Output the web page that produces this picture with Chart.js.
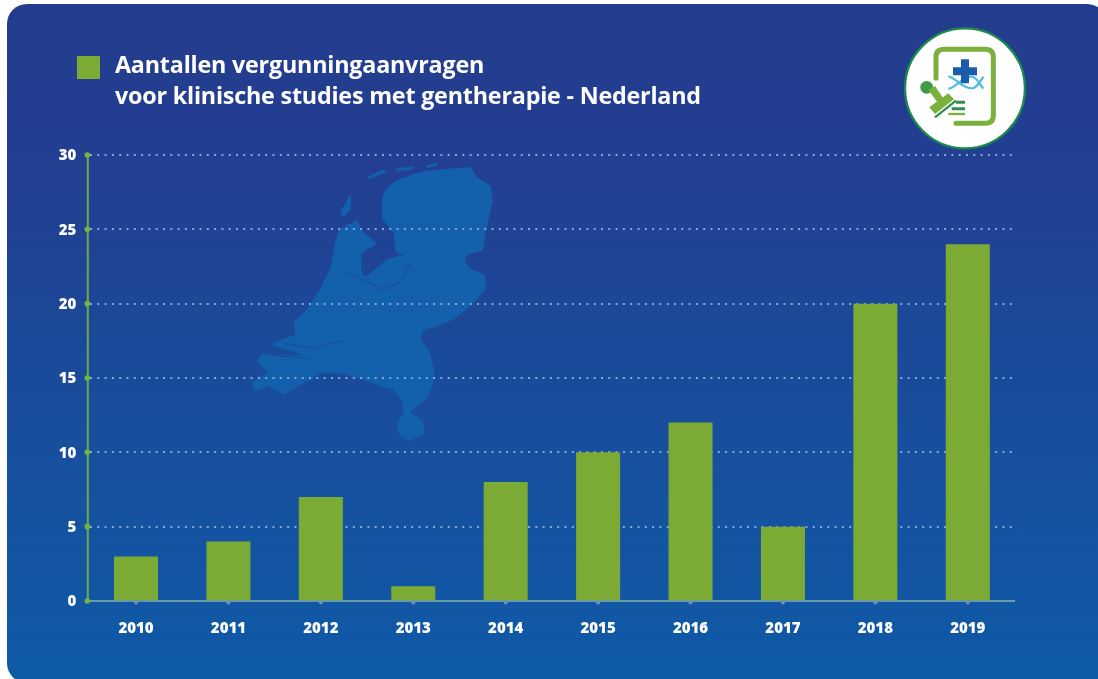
<!DOCTYPE html>
<html lang="nl">
<head>
<meta charset="utf-8">
<title>Aantallen vergunningaanvragen</title>
<script src="https://cdn.jsdelivr.net/npm/chart.js@4"></script>
<style>
html,body{margin:0;padding:0;background:#fff;width:1098px;height:679px;overflow:hidden}
#panel{position:absolute;left:7px;top:4px;width:1100px;height:679px;border-radius:20px;background:linear-gradient(180deg,#243c8e 0%,#223f91 25%,#16519f 70%,#0e5aa7 100%)}
#deco{position:absolute;left:0;top:0}
#wrap{position:absolute;left:0;top:0;width:1098px;height:679px}
#swatch{position:absolute;left:77px;top:56px;width:23px;height:23px;background:#7cab35}
#title{position:absolute;left:115px;top:49px;color:#fff;font:700 23.3px/31px "Open Sans",sans-serif;white-space:nowrap;letter-spacing:-.2px}
</style>
</head>
<body>
<div id="panel"></div>
<svg id="deco" width="1098" height="679" viewBox="0 0 1098 679" xmlns="http://www.w3.org/2000/svg">
  <g transform="translate(240,155) scale(0.3333)" fill="#1360ad" stroke="#1360ad" stroke-width="7" stroke-linejoin="round">
    <path d="M440 105L470 80L520 60L570 50L620 45L690 40L710 70L750 95L755 140L745 180L735 230L725 285L680 295L670 320L690 345L730 360L735 400L700 440L665 470L640 490L590 510L545 525L540 555L565 590L580 650L575 690L560 725L530 750L505 770L545 800L550 830L510 855L480 835L475 810L495 770L490 735L460 700L420 690L370 670L300 650L240 650L215 670L190 680L130 715L85 690L45 705L40 685L90 650L55 620L65 600L130 610L200 600L170 590L100 570L130 555L170 540L165 500L200 470L240 410L275 340L290 260L300 225L350 200L365 230L405 265L360 295L362 350L375 372L445 315L505 298L470 290L465 235L430 190L430 130Z"/>
    <path d="M305 175L330 125L328 165L310 182Z"/>
    <path d="M380 68L430 45L440 50L390 70Z" stroke-width="3"/>
    <path d="M468 42L520 36L518 42L470 48Z" stroke-width="3"/>
    <path d="M558 32L590 24L590 30L562 38Z" stroke-width="3"/>
    <path d="M320 355L370 375L430 405L480 380L515 320" fill="none" stroke="#1c4f9f" stroke-width="4"/>
    <path d="M130 565L220 580L320 555M115 600L210 610" fill="none" stroke="#18539f" stroke-width="5"/>
  </g>
  <g transform="translate(880,10) scale(0.3333)">
    <circle cx="255" cy="235" r="180" fill="#fff" stroke="#1c8a4c" stroke-width="7"/>
    <path d="M168 205V142Q168 118 192 118H316Q340 118 340 142V316Q340 340 316 340H228" fill="none" stroke="#7cb03c" stroke-width="15" stroke-linecap="round"/>
    <path d="M205 200C225 200 245 235 275 235C290 235 300 215 310 200M205 236C225 236 245 200 275 200C290 200 300 225 310 236" fill="none" stroke="#55bde3" stroke-width="7"/>
    <path d="M243 148H267V172H291V196H267V220H243V196H219V172H243Z" fill="#1c5dab"/>
    <circle cx="140" cy="232" r="19" fill="#3e9a46"/>
    <path d="M145 240L165 228L190 265L172 277Z" fill="#7cb03c"/>
    <path d="M148 292L205 250L222 268L165 312Z" fill="#7cb03c"/>
    <path d="M165 322L228 272" stroke="#2f8f4a" stroke-width="7" fill="none"/>
    <path d="M228 277H255M215 296H255" stroke="#2f8f4a" stroke-width="9" fill="none"/>
    <path d="M205 312H255" stroke="#7cb03c" stroke-width="7" fill="none"/>
  </g>
</svg>
<div id="wrap"><canvas id="c" width="1098" height="679"></canvas></div>
<div id="swatch"></div>
<div id="title"></div>
<script>
const titleLines = ["Aantallen vergunningaanvragen", "voor klinische studies met gentherapie - Nederland"];
const years = ["2010","2011","2012","2013","2014","2015","2016","2017","2018","2019"];
const aanvragen = [3,4,7,1,8,10,12,5,20,24];
const yTicks = [0,5,10,15,20,25,30];

document.getElementById('title').innerHTML = titleLines.join('<br>');

const axisDecor = {
  id:'axisDecor',
  afterDatasetsDraw(chart){
    const {ctx, chartArea:a, scales:{x,y}} = chart;
    const ax = a.left - 2;
    ctx.save();
    ctx.strokeStyle = '#6cab4c'; ctx.lineWidth = 2;
    ctx.beginPath(); ctx.moveTo(ax, a.top); ctx.lineTo(ax, a.bottom); ctx.stroke();
    ctx.fillStyle = '#76b33f';
    yTicks.forEach(v=>{ ctx.beginPath(); ctx.arc(ax-0.5, y.getPixelForValue(v), 2.8, 0, 2*Math.PI); ctx.fill(); });
    ctx.fillStyle = '#6f93a8';
    years.forEach((_,i)=>{ ctx.beginPath(); ctx.arc(x.getPixelForValue(i), a.bottom+1.5, 2, 0, 2*Math.PI); ctx.fill(); });
    ctx.restore();
  }
};

Chart.defaults.font.family = '"Open Sans", sans-serif';
new Chart(document.getElementById('c'), {
  type:'bar',
  data:{labels:years, datasets:[{label:titleLines.join(' '), data:aanvragen, backgroundColor:'#7cab35', borderWidth:0, barPercentage:0.476, categoryPercentage:1}]},
  plugins:[axisDecor],
  options:{
    responsive:false, animation:false,
    layout:{padding:{left:0,top:155,right:84,bottom:40}},
    plugins:{legend:{display:false},tooltip:{enabled:false},title:{display:false}},
    scales:{
      x:{
        grid:{display:false,drawTicks:false},
        border:{display:true,color:'#6a9aa4',width:2},
        ticks:{color:'#fff',padding:18.5,font:{size:15,weight:'800'},maxRotation:0},
        afterFit(s){s.height=38;}
      },
      y:{
        min:0,max:30,
        afterBuildTicks(s){s.ticks=yTicks.map(v=>({value:v}));},
        grid:{drawTicks:false,lineWidth:2,color:c=>c.tick.value===0?'rgba(0,0,0,0)':'#86a8d8'},
        border:{display:false,dash:[2,5.3]},
        ticks:{color:'#fff',padding:13.5,labelOffset:1,font:{size:15,weight:'800'}},
        afterFit(s){s.width=89.8;}
      }
    }
  }
});
</script>
</body>
</html>
